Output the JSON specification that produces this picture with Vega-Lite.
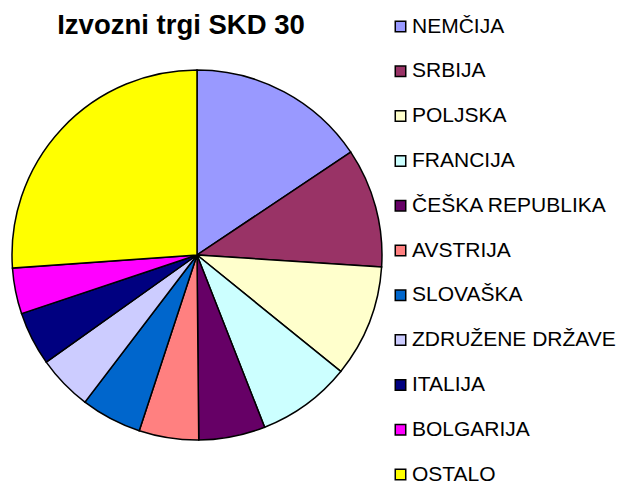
{
  "$schema": "https://vega.github.io/schema/vega-lite/v6.json",
  "autosize": "none",
  "width": 394,
  "height": 458,
  "padding": {"left": 0, "top": 26, "right": 226, "bottom": 0},
  "background": "white",
  "title": {
    "text": "Izvozni trgi SKD 30",
    "font": "Liberation Sans",
    "fontSize": 27.5,
    "fontWeight": "bold",
    "color": "black",
    "anchor": "middle",
    "frame": "group",
    "dx": -16,
    "baseline": "alphabetic",
    "offset": -45
  },
  "data": {
    "values": [
      {"country": "NEMČIJA", "share": 15.6, "order": 1},
      {"country": "SRBIJA", "share": 10.4, "order": 2},
      {"country": "POLJSKA", "share": 9.8, "order": 3},
      {"country": "FRANCIJA", "share": 8.2, "order": 4},
      {"country": "ČEŠKA REPUBLIKA", "share": 5.8, "order": 5},
      {"country": "AVSTRIJA", "share": 5.2, "order": 6},
      {"country": "SLOVAŠKA", "share": 5.3, "order": 7},
      {"country": "ZDRUŽENE DRŽAVE", "share": 4.8, "order": 8},
      {"country": "ITALIJA", "share": 4.7, "order": 9},
      {"country": "BOLGARIJA", "share": 4.0, "order": 10},
      {"country": "OSTALO", "share": 26.1, "order": 11}
    ]
  },
  "mark": {"type": "arc", "outerRadius": 185, "stroke": "black", "strokeWidth": 1.5},
  "encoding": {
    "theta": {"field": "share", "type": "quantitative", "stack": true},
    "order": {"field": "order", "type": "quantitative"},
    "color": {
      "field": "country",
      "type": "nominal",
      "sort": null,
      "scale": {
        "domain": ["NEMČIJA", "SRBIJA", "POLJSKA", "FRANCIJA", "ČEŠKA REPUBLIKA", "AVSTRIJA", "SLOVAŠKA", "ZDRUŽENE DRŽAVE", "ITALIJA", "BOLGARIJA", "OSTALO"],
        "range": ["#9999FF", "#993366", "#FFFFCC", "#CCFFFF", "#660066", "#FF8080", "#0066CC", "#CCCCFF", "#000080", "#FF00FF", "#FFFF00"]
      },
      "legend": {
        "title": null,
        "orient": "none",
        "legendX": 390,
        "legendY": -10,
        "symbolType": "square",
        "symbolSize": 110,
        "symbolStrokeColor": "black",
        "symbolStrokeWidth": 1.5,
        "symbolOpacity": 1,
        "labelFont": "Liberation Sans",
        "labelFontSize": 21,
        "labelColor": "black",
        "labelOffset": 1,
        "rowPadding": 22.8,
        "labelLimit": 300,
        "padding": 0
      }
    }
  },
  "config": {"view": {"stroke": null}}
}
